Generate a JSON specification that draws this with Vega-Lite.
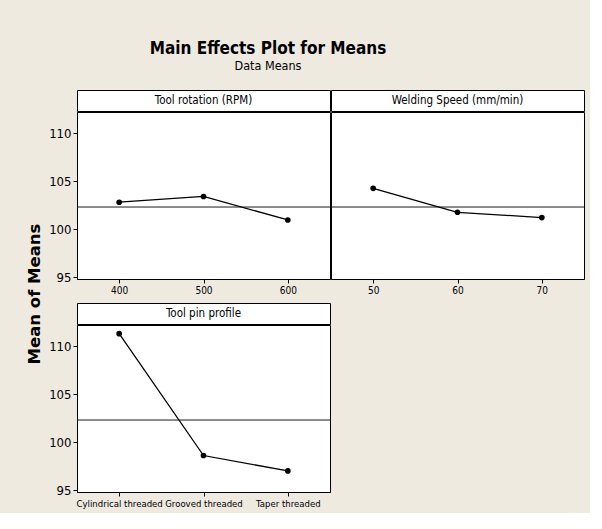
{
  "$schema": "https://vega.github.io/schema/vega-lite/v6.json",
  "background": "#EEEAE0",
  "padding": {"left": 25, "top": 40, "right": 5, "bottom": 5},
  "title": {
    "text": "Main Effects Plot for Means",
    "subtitle": "Data Means",
    "font": "DejaVu Sans Condensed, DejaVu Sans",
    "subtitleFont": "DejaVu Sans Condensed, DejaVu Sans",
    "fontSize": 17,
    "fontWeight": "bold",
    "subtitleFontSize": 12.5,
    "color": "black",
    "subtitleColor": "black",
    "anchor": "middle",
    "offset": 16,
    "subtitlePadding": 2,
    "dx": -37
  },
  "datasets": {
    "effects": [
      {"factor": "Tool rotation (RPM)", "level": "400", "value": 400, "mean": 102.8},
      {"factor": "Tool rotation (RPM)", "level": "500", "value": 500, "mean": 103.4},
      {"factor": "Tool rotation (RPM)", "level": "600", "value": 600, "mean": 100.95},
      {"factor": "Welding Speed (mm/min)", "level": "50", "value": 50, "mean": 104.25},
      {"factor": "Welding Speed (mm/min)", "level": "60", "value": 60, "mean": 101.75},
      {"factor": "Welding Speed (mm/min)", "level": "70", "value": 70, "mean": 101.2},
      {"factor": "Tool pin profile", "level": "Cylindrical threaded", "value": null, "mean": 111.3},
      {"factor": "Tool pin profile", "level": "Grooved threaded", "value": null, "mean": 98.6},
      {"factor": "Tool pin profile", "level": "Taper threaded", "value": null, "mean": 97.0}
    ],
    "grand": [{"grand_mean": 102.3}]
  },
  "spacing": 3,
  "hconcat": [
    {
      "width": 20,
      "height": 408,
      "view": {"stroke": null, "fill": null},
      "data": {"values": [{"label": "Mean of Means"}]},
      "mark": {"type": "text", "angle": 270, "fontSize": 16.5, "fontWeight": "bold", "font": "DejaVu Sans", "color": "black"},
      "encoding": {"text": {"field": "label"}}
    },
    {
      "spacing": 6,
      "vconcat": [
        {
          "spacing": -1.5,
          "hconcat": [
            {
              "spacing": -1.5,
              "vconcat": [
                {
                  "width": 253, "height": 21,
                  "view": {"fill": "white", "stroke": "black"},
                  "data": {"values": [{"factor": "Tool rotation (RPM)"}]},
                  "mark": {"type": "text", "fontSize": 11.5, "color": "black", "font": "DejaVu Sans Condensed, DejaVu Sans"},
                  "encoding": {"text": {"field": "factor"}}
                },
                {
                  "width": 253, "height": 167,
                  "view": {"fill": "white", "stroke": "black"},
                  "layer": [
                    {
                      "data": {"name": "grand"},
                      "mark": {"type": "rule", "color": "#1a1a1a", "strokeWidth": 1},
                      "encoding": {"y": {"field": "grand_mean", "type": "quantitative", "scale": {"domain": [94.8, 112.2], "nice": false, "zero": false}, "axis": {"values": [95, 100, 105, 110], "title": null}}}
                    },
                    {
                      "data": {"name": "effects"},
                      "transform": [{"filter": "datum.factor === 'Tool rotation (RPM)'"}],
                      "mark": {"type": "line", "color": "black", "strokeWidth": 1.3, "point": {"filled": true, "color": "black", "size": 32}},
                      "encoding": {
                        "x": {"field": "value", "type": "quantitative", "scale": {"domain": [350, 650], "nice": false, "zero": false}, "axis": {"values": [400, 500, 600], "title": null}},
                        "y": {"field": "mean", "type": "quantitative", "scale": {"domain": [94.8, 112.2], "nice": false, "zero": false}, "axis": {"values": [95, 100, 105, 110], "title": null}}
                      }
                    }
                  ]
                }
              ]
            },
            {
              "spacing": -1.5,
              "vconcat": [
                {
                  "width": 253, "height": 21,
                  "view": {"fill": "white", "stroke": "black"},
                  "data": {"values": [{"factor": "Welding Speed (mm/min)"}]},
                  "mark": {"type": "text", "fontSize": 11.5, "color": "black", "font": "DejaVu Sans Condensed, DejaVu Sans"},
                  "encoding": {"text": {"field": "factor"}}
                },
                {
                  "width": 253, "height": 167,
                  "view": {"fill": "white", "stroke": "black"},
                  "layer": [
                    {
                      "data": {"name": "grand"},
                      "mark": {"type": "rule", "color": "#1a1a1a", "strokeWidth": 1},
                      "encoding": {"y": {"field": "grand_mean", "type": "quantitative", "scale": {"domain": [94.8, 112.2], "nice": false, "zero": false}, "axis": null}}
                    },
                    {
                      "data": {"name": "effects"},
                      "transform": [{"filter": "datum.factor === 'Welding Speed (mm/min)'"}],
                      "mark": {"type": "line", "color": "black", "strokeWidth": 1.3, "point": {"filled": true, "color": "black", "size": 32}},
                      "encoding": {
                        "x": {"field": "value", "type": "quantitative", "scale": {"domain": [45, 75], "nice": false, "zero": false}, "axis": {"values": [50, 60, 70], "title": null}},
                        "y": {"field": "mean", "type": "quantitative", "scale": {"domain": [94.8, 112.2], "nice": false, "zero": false}, "axis": null}
                      }
                    }
                  ]
                }
              ]
            }
          ]
        },
        {
          "spacing": -1.5,
          "vconcat": [
            {
              "width": 253, "height": 21,
              "view": {"fill": "white", "stroke": "black"},
              "data": {"values": [{"factor": "Tool pin profile"}]},
              "mark": {"type": "text", "fontSize": 11.5, "color": "black", "font": "DejaVu Sans Condensed, DejaVu Sans"},
              "encoding": {"text": {"field": "factor"}}
            },
            {
              "width": 253, "height": 167,
              "view": {"fill": "white", "stroke": "black"},
              "layer": [
                {
                  "data": {"name": "grand"},
                  "mark": {"type": "rule", "color": "#1a1a1a", "strokeWidth": 1},
                  "encoding": {"y": {"field": "grand_mean", "type": "quantitative", "scale": {"domain": [94.8, 112.2], "nice": false, "zero": false}, "axis": {"values": [95, 100, 105, 110], "title": null}}}
                },
                {
                  "data": {"name": "effects"},
                  "transform": [{"filter": "datum.factor === 'Tool pin profile'"}],
                  "mark": {"type": "line", "color": "black", "strokeWidth": 1.3, "point": {"filled": true, "color": "black", "size": 32}},
                  "encoding": {
                    "x": {"field": "level", "type": "nominal", "sort": ["Cylindrical threaded", "Grooved threaded", "Taper threaded"], "scale": {"type": "point", "padding": 0.5}, "axis": {"title": null, "labelAngle": 0, "labelOverlap": false, "labelBound": false, "labelFontSize": 9.5}},
                    "y": {"field": "mean", "type": "quantitative", "scale": {"domain": [94.8, 112.2], "nice": false, "zero": false}, "axis": {"values": [95, 100, 105, 110], "title": null}}
                  }
                }
              ]
            }
          ]
        }
      ]
    }
  ],
  "config": {
    "axis": {
      "grid": false,
      "domainColor": "black",
      "tickColor": "black",
      "labelColor": "black",
      "tickSize": 4,
      "labelPadding": 2,
      "labelFont": "DejaVu Sans Condensed, DejaVu Sans"
    },
    "axisX": {"labelFontSize": 10},
    "axisY": {"labelFontSize": 13}
  }
}
